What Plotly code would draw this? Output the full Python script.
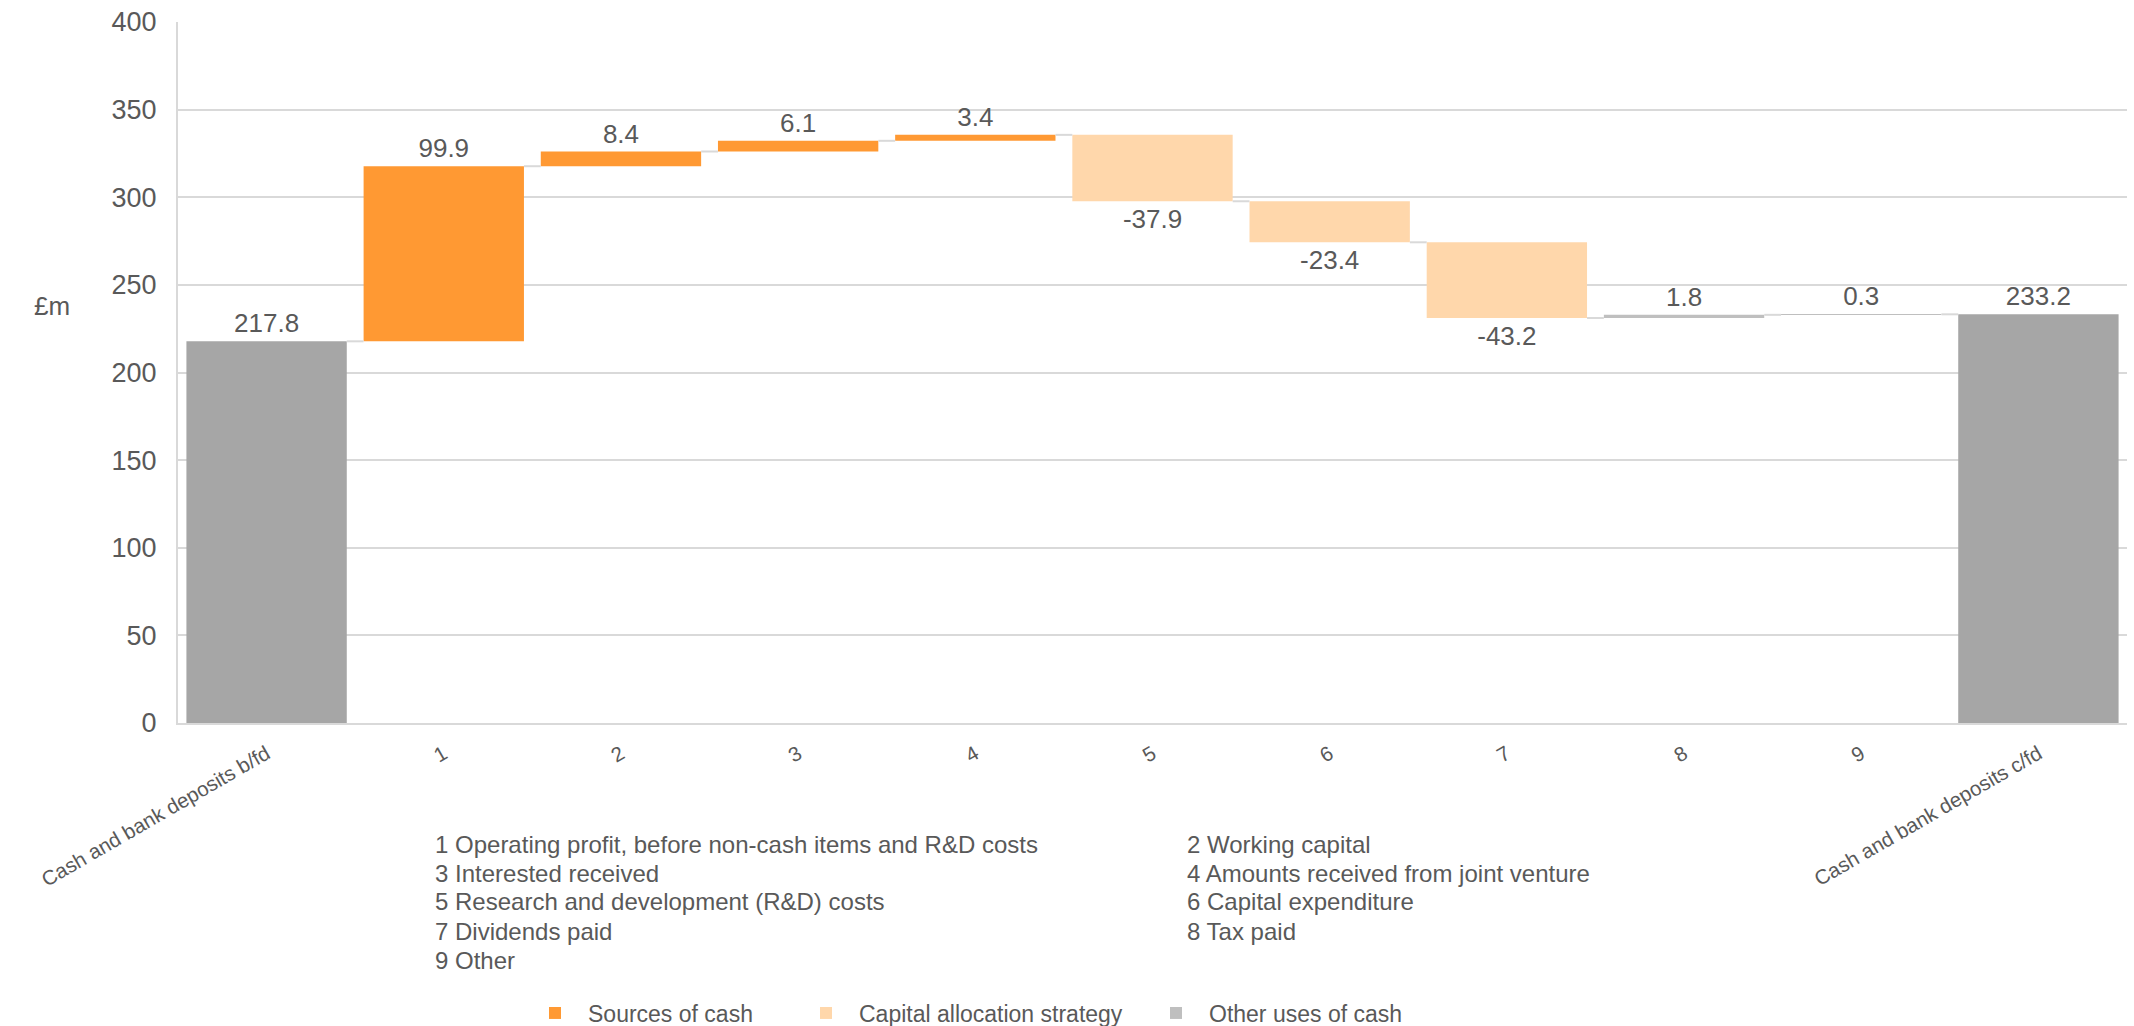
import plotly.graph_objects as go

# ---------------- data ----------------
categories = ["Cash and bank deposits b/fd", "1", "2", "3", "4", "5", "6", "7", "8", "9",
              "Cash and bank deposits c/fd"]
opening_balance = 217.8
movements = [99.9, 8.4, 6.1, 3.4, -37.9, -23.4, -43.2, 1.8, 0.3]
movement_groups = ["Sources of cash"] * 4 + ["Capital allocation strategy"] * 3 + ["Other uses of cash"] * 2
closing_balance = 233.2
group_names = ["Sources of cash", "Capital allocation strategy", "Other uses of cash"]
footnotes_left = ["1 Operating profit, before non-cash items and R&D costs",
                  "3 Interested received",
                  "5 Research and development (R&D) costs",
                  "7 Dividends paid",
                  "9 Other"]
footnotes_right = ["2 Working capital",
                   "4 Amounts received from joint venture",
                   "6 Capital expenditure",
                   "8 Tax paid"]

# ---------------- styles ----------------
FONT = "Liberation Sans, Arial, sans-serif"
TXT = "#595959"
GRID = "#D9D9D9"
group_colors = {"Sources of cash": "#FF9933",
                "Capital allocation strategy": "#FFD7AB",
                "Other uses of cash": "#BFBFBF"}
total_color = "#A6A6A6"
legend_ids = {"Sources of cash": "legend", "Capital allocation strategy": "legend2",
              "Other uses of cash": "legend3"}
BAR_W = 0.905

# running levels
levels = [opening_balance]
for m in movements:
    levels.append(levels[-1] + m)

fig = go.Figure()

# totals
fig.add_trace(go.Bar(
    x=[0, len(categories) - 1], y=[opening_balance, closing_balance], base=[0, 0],
    width=BAR_W, marker=dict(color=total_color, line=dict(width=0)),
    text=[f"{opening_balance:.1f}", f"{closing_balance:.1f}"], textposition="outside",
    textfont=dict(family=FONT, size=26, color=TXT), cliponaxis=False,
    constraintext="none", showlegend=False, hoverinfo="skip"))

# movements by group
for g in group_names:
    idx = [i for i, gg in enumerate(movement_groups) if gg == g]
    fig.add_trace(go.Bar(
        x=[i + 1 for i in idx], y=[movements[i] for i in idx], base=[levels[i] for i in idx],
        width=BAR_W, name=g, legend=legend_ids[g],
        marker=dict(color=group_colors[g], line=dict(width=0)),
        text=[f"{movements[i]:.1f}" for i in idx], textposition="outside",
        textfont=dict(family=FONT, size=26, color=TXT), cliponaxis=False,
        constraintext="none", hoverinfo="skip"))

# connectors
cx, cy = [], []
for i in range(len(categories) - 1):
    lvl = levels[i] if i < len(levels) else levels[-1]
    cx += [i + BAR_W / 2, i + 1 - BAR_W / 2, None]
    cy += [lvl, lvl, None]
fig.add_trace(go.Scatter(x=cx, y=cy, mode="lines", line=dict(color=GRID, width=2),
                         showlegend=False, hoverinfo="skip"))

# ---------------- layout ----------------
L, R, T, B = 178, 7, 22, 303
W, H = 2134, 1026
pw, ph = W - L - R, H - T - B


def px_x(p):
    return (p - L) / pw


def px_y(p):
    return (H - B - p) / ph


legend_common = dict(orientation="h", yanchor="middle", xanchor="left",
                     xref="container", yref="container",
                     font=dict(family=FONT, size=23, color=TXT), bgcolor="rgba(0,0,0,0)",
                     borderwidth=0, itemwidth=56)

LEG_Y = (H - 1013) / H

fig.update_layout(
    width=W, height=H, margin=dict(l=L, r=R, t=T, b=B, autoexpand=False),
    paper_bgcolor="white", plot_bgcolor="white",
    font=dict(family=FONT, color=TXT),
    barmode="overlay",
    xaxis=dict(range=[-0.5, len(categories) - 0.5], tickmode="array",
               tickvals=list(range(len(categories))), ticktext=categories,
               tickangle=-30, tickfont=dict(family=FONT, size=20.5, color=TXT),
               showgrid=False, zeroline=False, showline=True, linecolor=GRID, linewidth=2,
               ticks="", ticklabelstandoff=9, automargin=False),
    yaxis=dict(range=[0, 400], dtick=50, tickfont=dict(family=FONT, size=27, color=TXT),
               showgrid=True, gridcolor=GRID, gridwidth=2, zeroline=False,
               showline=True, linecolor=GRID, linewidth=2, ticks="", ticklabelstandoff=14,
               automargin=False),
    legend=dict(x=522 / W, y=LEG_Y, **legend_common),
    legend2=dict(x=793 / W, y=LEG_Y, **legend_common),
    legend3=dict(x=1143 / W, y=LEG_Y, **legend_common),
)

fig.add_annotation(text="£m", x=px_x(52), y=px_y(306), xref="paper", yref="paper",
                   xanchor="center", yanchor="middle",
                   showarrow=False, font=dict(family=FONT, size=26, color=TXT))

ROW0, ROW_STEP = 844, 29
for col_x, lines in ((433, footnotes_left), (1185, footnotes_right)):
    for k, line in enumerate(lines):
        fig.add_annotation(text=line, x=px_x(col_x), y=px_y(ROW0 + k * ROW_STEP),
                           xref="paper", yref="paper", xanchor="left", yanchor="middle",
                           align="left", showarrow=False,
                           font=dict(family=FONT, size=24, color=TXT))

fig.write_html("out.html")
